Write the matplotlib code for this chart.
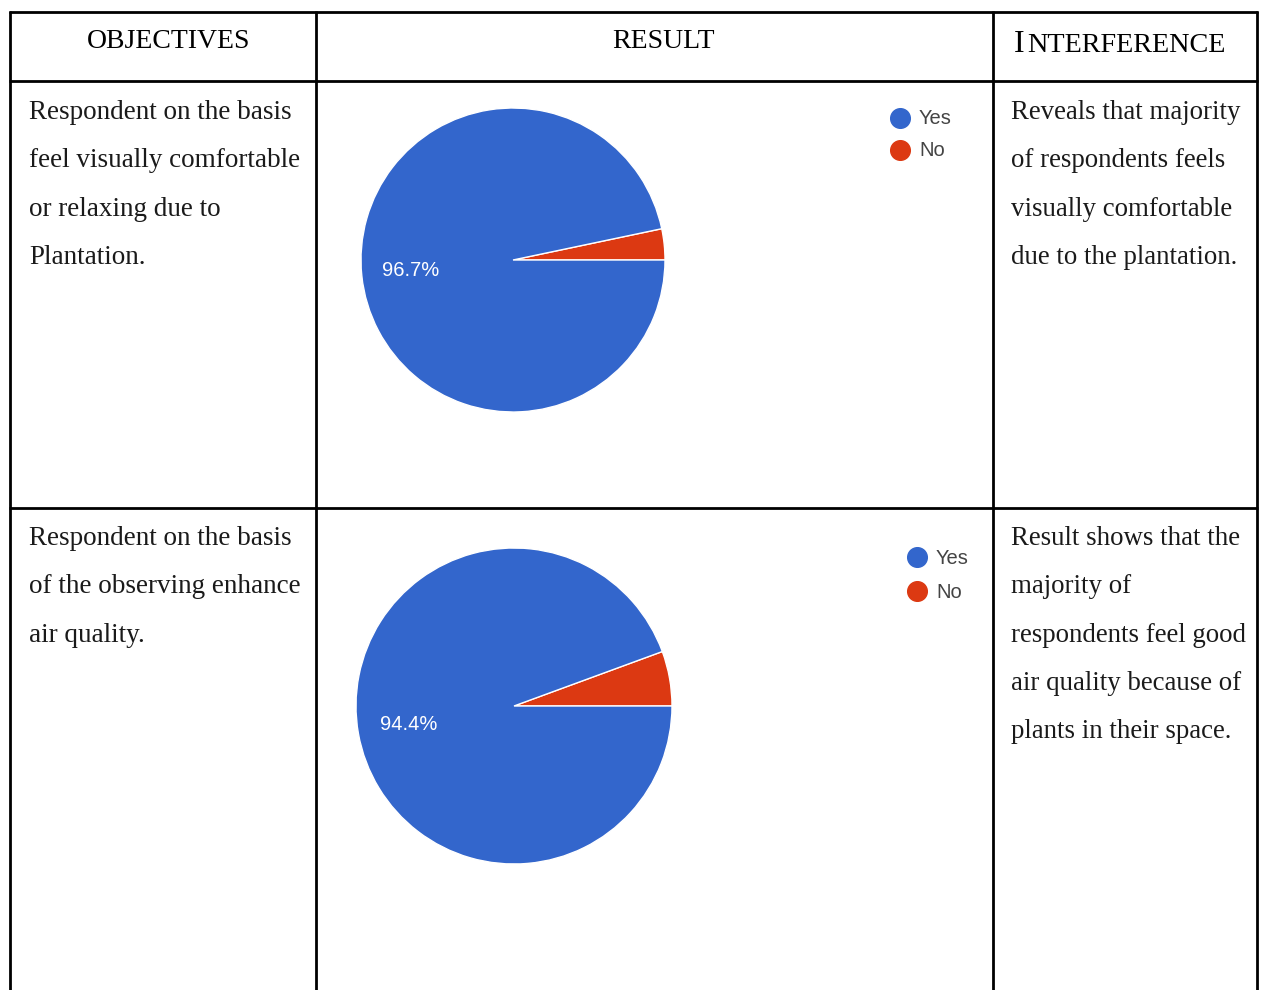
#!/usr/bin/env python
# coding: utf-8

# Table of survey objectives with the two yes/no pie charts

import matplotlib
matplotlib.use("Agg")
import matplotlib.pyplot as plt

# -------------------- data
headers = ["OBJECTIVES", "RESULT", "INTERFERENCE"]

objectives = [
    ["Respondent on the basis", "feel visually comfortable",
     "or relaxing due to", "Plantation."],
    ["Respondent on the basis", "of the observing enhance",
     "air quality."],
]
interference = [
    ["Reveals that majority", "of respondents feels",
     "visually comfortable", "due to the plantation."],
    ["Result shows that the", "majority of",
     "respondents feel good", "air quality because of",
     "plants in their space."],
]

answers = ["Yes", "No"]
pie_values = [
    [96.7, 3.3],
    [94.4, 5.6],
]
# -------------------- data

W, H = 1262, 990
BLUE = "#3366CC"
RED = "#DC3912"
SERIF = "Liberation Serif"
SANS = "Liberation Sans"

fig = plt.figure(figsize=(W / 100, H / 100), dpi=100)
ax = fig.add_axes([0, 0, 1, 1])
ax.set_xlim(0, W)
ax.set_ylim(H, 0)
ax.axis("off")

# table grid
lw = 2.0
col_x = [10, 316, 993, 1257]
row_y = [12, 81, 508]
for x in col_x:
    ax.plot([x, x], [row_y[0] - 1, H], color="k", lw=lw, solid_capstyle="butt")
for y in row_y:
    ax.plot([col_x[0] - 1, col_x[-1] + 1], [y, y], color="k", lw=lw,
            solid_capstyle="butt")

# headers
ax.text(169, 48, headers[0], family=SERIF, fontsize=20, ha="center",
        va="baseline", color="k")
ax.text(663, 48, headers[1], family=SERIF, fontsize=20, ha="center",
        va="baseline", color="k")
# small caps look for the third header
ax.text(1014, 52, headers[2][0], family=SERIF, fontsize=23, ha="left",
        va="baseline", color="k")
ax.text(1027, 52, headers[2][1:], family=SERIF, fontsize=20.3, ha="left",
        va="baseline", color="k")

# body text
first_base = [119, 545]
step = 48.3
for r in range(2):
    for i, line in enumerate(objectives[r]):
        ax.text(29, first_base[r] + i * step, line, family=SERIF,
                fontsize=19.5, ha="left", va="baseline", color="#1a1a1a")
    for i, line in enumerate(interference[r]):
        ax.text(1011, first_base[r] + i * step, line, family=SERIF,
                fontsize=19.4, ha="left", va="baseline", color="#1a1a1a")

# pies
centers = [(513, 260), (514, 706)]
radii = [152, 158]
legend_pos = [(900, 118, 32), (917, 557, 34)]

for k in range(2):
    cx, cy = centers[k]
    r = radii[k]
    pax = fig.add_axes([(cx - r) / W, (H - cy - r) / H, 2 * r / W, 2 * r / H])
    vals = pie_values[k]
    # No slice first so it sits just above 3 o'clock
    pax.pie([vals[1], vals[0]], colors=[RED, BLUE], startangle=0,
            counterclock=True, radius=1,
            wedgeprops=dict(edgecolor="white", linewidth=1),
            autopct=lambda p: "%.1f%%" % p if p > 50 else "",
            pctdistance=0.68,
            textprops=dict(color="white", family=SANS, fontsize=14.5))
    pax.set_xlim(-1.0, 1.0)
    pax.set_ylim(-1.0, 1.0)
    pax.set_aspect("equal")
    pax.axis("off")

    lx, ly, gap = legend_pos[k]
    for j, name in enumerate(answers):
        color = BLUE if j == 0 else RED
        ax.scatter([lx], [ly + j * gap], s=200, color=color, zorder=3)
        ax.text(lx + 19, ly + j * gap + 1, name, family=SANS, fontsize=14.5,
                ha="left", va="center", color="#444444")

fig.savefig("out.png", dpi=100)
